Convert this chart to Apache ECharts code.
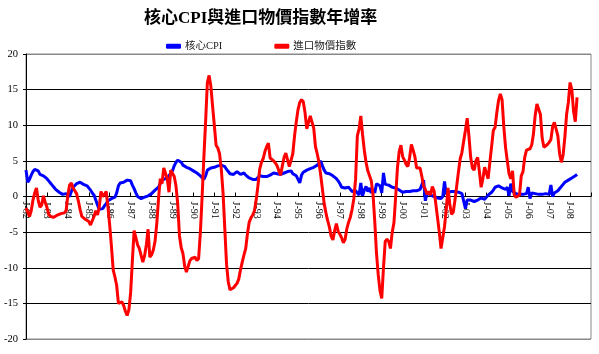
<!DOCTYPE html>
<html>
<head>
<meta charset="utf-8">
<script src="https://cdn.jsdelivr.net/npm/echarts@6/dist/echarts.min.js"></script>
<style>
html,body{margin:0;padding:0;background:#fff;}
#main{width:599px;height:354px;}
</style>
</head>
<body>
<div id="main"></div>
<script>
// 資料 (1982/01 - 2008/05, 月資料)
var legendNames = ['核心CPI', '進口物價指數'];
var yTicks = [-20, -15, -10, -5, 0, 5, 10, 15, 20];

var coreCpi = [
	3.7, 2.0, 2.4, 3.0, 3.5, 3.8, 3.8, 3.6, 3.1, 3.0, 2.9, 2.7,
	2.5, 2.2, 1.9, 1.6, 1.3, 1.0, 0.8, 0.6, 0.4, 0.3, 0.2, 0.4,
	0.3, 0.0, 0.7, 1.3, 1.5, 1.8, 2.0, 2.0, 1.8, 1.7, 1.6, 1.5,
	1.3, 0.9, 0.5, 0.2, -0.5, -1.2, -1.8, -2.0, -1.7, -1.3, -1.0, -0.6,
	-0.4, -0.3, -0.3, -0.1, 0.5, 1.5, 1.9, 2.0, 2.0, 2.1, 2.3, 2.3,
	2.2, 1.6, 1.1, 0.5, 0.0, -0.2, -0.3, -0.3, -0.1, 0.0, 0.1, 0.3,
	0.4, 0.6, 0.9, 1.1, 1.3, 1.8, 2.3, 2.4, 2.5, 2.7, 2.9, 3.3,
	3.6, 4.3, 4.8, 5.1, 5.0, 4.8, 4.4, 4.2, 4.1, 4.0, 3.9, 3.8,
	3.6, 3.5, 3.3, 3.2, 2.9, 2.7, 2.4, 2.9, 3.7, 3.9, 4.0, 4.0,
	4.1, 4.3, 4.3, 4.4, 4.4, 4.4, 4.2, 3.8, 3.5, 3.2, 3.2, 3.1,
	3.3, 3.5, 3.3, 3.1, 3.2, 3.3, 3.0, 2.8, 2.6, 2.5, 2.4, 2.3,
	2.4, 2.6, 2.9, 2.8, 2.8, 2.7, 2.8, 2.9, 3.0, 3.1, 3.3, 3.3,
	3.2, 3.2, 3.1, 3.2, 3.3, 3.4, 3.5, 3.6, 3.6, 3.2, 3.0, 2.9,
	2.7, 1.9, 3.0, 3.4, 3.5, 3.7, 3.8, 3.9, 4.0, 4.1, 4.3, 4.4,
	4.6, 5.0, 4.3, 3.7, 3.3, 3.3, 3.2, 3.1, 2.9, 2.7, 2.5, 2.2,
	1.8, 1.3, 1.2, 1.2, 1.3, 1.3, 1.0, 0.7, 0.6, 0.8, 1.0, 0.2,
	1.9, 0.1, 0.9, 1.4, 0.7, 1.2, 0.5, 1.0, 0.5, 1.8, 1.7, 1.5,
	0.5, 3.3, 1.7, 1.7, 1.6, 1.5, 1.3, 1.2, 1.2, 1.2, 0.9, 0.7,
	0.6, 0.6, 0.7, 0.7, 0.7, 0.6, 0.8, 0.9, 0.8, 0.8, 1.0, 1.1,
	2.3, -0.6, 0.5, 0.3, 0.2, 0.1, 0.0, -0.1, -0.2, -0.3, -0.3, 0.0,
	2.1, 0.3, 0.6, 0.6, 0.7, 0.7, 0.7, 0.7, 0.6, 0.6, 0.4, 0.2,
	-1.7, -0.5, -0.4, -0.5, -0.6, -0.7, -0.7, -0.5, -0.4, -0.2, -0.3, -0.4,
	-0.2, 0.2, 0.4, 0.6, 0.9, 1.3, 1.4, 1.5, 1.3, 1.2, 1.1, 1.0,
	1.3, 0.1, 1.8, 0.7, 0.6, 0.4, 0.4, 0.3, 0.4, 0.3, 0.3, 0.4,
	1.3, -0.3, 0.5, 0.4, 0.4, 0.4, 0.3, 0.4, 0.3, 0.4, 0.4, 0.2,
	0.3, 1.6, 0.0, 0.5, 0.6, 0.8, 1.0, 1.4, 1.7, 2.0, 2.2, 2.3,
	2.5, 2.6, 2.7, 2.9, 3.1
];

var importPrice = [
	-1.6, -2.2, -2.8, -2.0, -0.5, 0.5, 1.2, -0.5, -1.5, -1.2, 0.1, -0.8,
	-1.5, -2.5, -2.8, -2.6, -2.9, -3.0, -2.6, -2.8, -2.4, -2.6, -2.3, -2.0,
	0.2, 1.6, 1.9, 1.2, 0.8, 0.4, -0.6, -1.8, -2.8, -3.0, -3.2, -3.3,
	-3.5, -4.0, -3.4, -2.8, -2.0, -2.6, -1.5, 0.7, 0.0, 0.3, 0.7, -1.5,
	-4.0, -7.0, -10.3, -11.3, -12.5, -15.0, -14.8, -14.8, -15.3, -16.1, -16.7, -15.9,
	-13.5, -9.0, -4.8, -4.6, -6.8, -7.3, -7.3, -9.2, -8.3, -6.8, -4.6, -8.5,
	-8.2, -7.5, -6.3, -3.8, -0.3, 2.5, 1.8, 4.0, 3.8, 2.5, 0.6, 3.7,
	3.7, 2.8, 1.5, -1.0, -5.5, -7.2, -8.0, -9.8, -10.6, -10.5, -9.0, -8.7,
	-8.6, -8.5, -9.0, -8.7, -5.0, 0.0, 5.5, 10.5, 16.0, 17.0, 15.5, 12.7,
	10.0, 7.2, 6.8, 6.0, 3.8, 0.5, -4.5, -9.5, -12.0, -13.1, -12.9, -12.8,
	-12.5, -12.2, -11.6, -10.3, -9.2, -8.2, -7.3, -5.2, -3.6, -3.0, -2.6, -2.0,
	-0.5, 1.5, 3.8, 4.8, 5.3, 6.3, 7.0, 7.5, 5.4, 5.2, 5.0, 4.7,
	4.3, 3.6, 3.0, 4.3, 5.5, 6.1, 5.9, 4.2, 4.0, 6.0, 8.5, 10.5,
	12.2, 13.2, 13.6, 13.3, 11.8, 9.5, 9.3, 11.3, 11.3, 9.6, 7.0, 6.0,
	4.8, 3.0, 1.0, -1.0, -2.3, -3.4, -4.3, -5.6, -6.1, -4.8, -3.8, -4.9,
	-5.3, -5.8, -6.5, -6.0, -4.5, -3.6, -2.9, -1.8, -0.3, 2.4, 8.5, 9.5,
	11.3, 8.7, 6.5, 4.8, 3.6, 3.5, 2.2, 0.3, -3.5, -8.0, -11.0, -13.2,
	-14.3, -10.0, -6.3, -6.0, -6.3, -7.3, -5.0, -3.7, 0.0, 4.0, 6.3, 7.2,
	5.6, 5.1, 4.5, 4.2, 5.5, 7.3, 6.5, 5.6, 4.0, 3.9, 4.0, 2.8,
	1.5, 1.0, 0.3, 0.7, 0.2, 1.4, 0.8, -1.0, -3.0, -5.0, -7.3, -5.8,
	-4.2, -1.8, 1.2, -1.0, -2.5, -2.2, -0.5, 1.5, 3.5, 5.3, 6.2, 7.8,
	9.3, 11.0, 8.5, 5.5, 4.0, 3.7, 5.0, 5.5, 3.5, 1.3, 2.5, 4.1,
	4.1, 2.5, 4.8, 7.0, 9.3, 9.7, 11.8, 13.5, 14.4, 13.6, 9.8, 6.9,
	5.0, 3.2, 2.5, 3.6, 0.2, -0.1, -0.1, 0.2, 2.9, 3.5, 5.5, 6.5,
	6.5, 6.7, 7.2, 8.8, 11.4, 13.0, 13.2, 11.5, 8.2, 6.9, 6.9, 7.3,
	7.6, 8.0, 9.8, 10.4, 10.3, 8.5, 6.0, 4.8, 5.8, 8.3, 11.5, 13.2,
	16.0, 15.0, 12.0, 10.5, 13.9
];

// 類別 J-82 ... (到 2009/01 為止, 軸右端)
var monthLetters = ['J','F','M','A','M','J','J','A','S','O','N','D'];
var categories = [];
for (var y = 1982; y <= 2008; y++) {
	for (var m = 0; m < 12; m++) {
		categories.push(monthLetters[m] + '-' + String(y).slice(2));
	}
}
categories.push('J-09');

var serif = "'Liberation Serif', 'Noto Sans CJK TC', serif";

// 版面
var gridTop = 54, gridBottom = 15, chartH = 354;
// x 軸放在 0 的位置 (-20 ~ 20 的中間)
var zeroOffset = -(chartH - gridTop - gridBottom) / 2;

var myChart = echarts.init(document.getElementById('main'));
var option = {
	animation: false,
	backgroundColor: '#fff',
	title: {
		text: '核心CPI與進口物價指數年增率',
		left: 139,
		top: 5,
		textStyle: {
			fontFamily: serif,
			fontSize: 17,
			fontWeight: 'bold',
			color: '#000'
		}
	},
	legend: {
		data: legendNames,
		left: 161,
		top: 36,
		itemGap: 52,
		itemWidth: 15,
		itemHeight: 5,
		icon: 'roundRect',
		textStyle: {
			fontFamily: serif,
			fontSize: 10.5,
			padding: [0, 0, 0, -1],
			color: '#222'
		}
	},
	grid: {
		left: 26,
		right: 8,
		top: gridTop,
		bottom: gridBottom,
		show: true,
		borderColor: '#888',
		borderWidth: 1
	},
	xAxis: {
		type: 'category',
		data: categories,
		boundaryGap: false,
		position: 'bottom',
		offset: zeroOffset,
		axisLine: { onZero: false, lineStyle: { color: '#000', width: 1 } },
		axisTick: {
			inside: true,
			length: 4,
			lineStyle: { color: '#000' },
			interval: function (i) { return i % 12 === 0; }
		},
		axisLabel: {
			rotate: -90,
			margin: 5,
			fontFamily: serif,
			fontSize: 10,
			color: '#000',
			interval: function (i) { return i % 12 === 0 && i < 324; }
		},
		splitLine: { show: false }
	},
	yAxis: {
		type: 'value',
		min: yTicks[0],
		max: yTicks[yTicks.length - 1],
		interval: 5,
		axisLine: { show: true, lineStyle: { color: '#000' } },
		axisTick: { show: true, length: 3, lineStyle: { color: '#000' } },
		axisLabel: {
			margin: 8,
			fontFamily: serif,
			fontSize: 10.5,
			color: '#000'
		},
		splitLine: {
			lineStyle: {
				color: ['#888', '#000', '#000', '#000', '#000', '#000', '#000', '#000', '#888'],
				width: 1
			}
		}
	},
	series: [
		{
			name: legendNames[0],
			type: 'line',
			data: coreCpi,
			symbol: 'none',
			itemStyle: { color: '#0000ff' },
			lineStyle: { color: '#0000ff', width: 3 },
			z: 3
		},
		{
			name: legendNames[1],
			type: 'line',
			data: importPrice,
			symbol: 'none',
			itemStyle: { color: '#ff0000' },
			lineStyle: { color: '#ff0000', width: 3 },
			z: 4
		}
	]
};
myChart.setOption(option);
</script>
</body>
</html>
